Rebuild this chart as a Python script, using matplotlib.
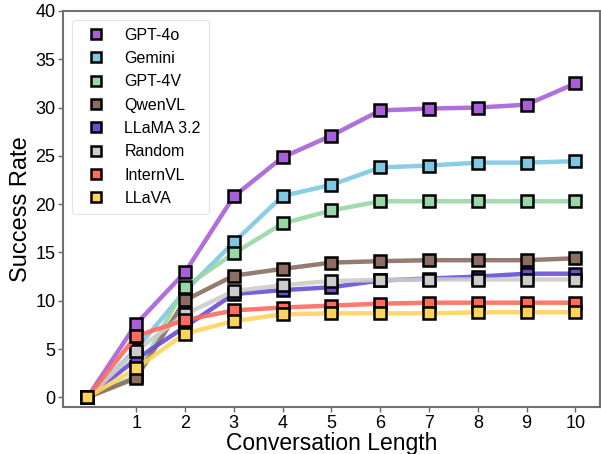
import matplotlib
matplotlib.use("Agg")
import matplotlib.pyplot as plt
from matplotlib.lines import Line2D

plt.rcParams['font.family'] = ['Liberation Sans', 'DejaVu Sans']

conv_length = [0, 1, 2, 3, 4, 5, 6, 7, 8, 9, 10]
tick_labels = ['1', '2', '3', '4', '5', '6', '7', '8', '9', '10']

models = ['GPT-4o', 'Gemini', 'GPT-4V', 'QwenVL', 'LLaMA 3.2', 'Random', 'InternVL', 'LLaVA']

gpt4o   = [0, 7.6, 12.95, 20.8, 24.85, 27.1, 29.7, 29.9, 30.0, 30.3, 32.5]
gemini  = [0, 5.0, 11.0, 16.05, 20.85, 22.0, 23.8, 24.0, 24.3, 24.3, 24.45]
gpt4v   = [0, 2.2, 11.45, 14.9, 18.0, 19.35, 20.3, 20.3, 20.3, 20.3, 20.3]
qwenvl  = [0, 2.0, 10.05, 12.6, 13.3, 13.95, 14.1, 14.2, 14.2, 14.2, 14.4]
llama32 = [0, 3.95, 7.3, 10.7, 11.1, 11.4, 12.1, 12.3, 12.5, 12.8, 12.8]
random_ = [0, 4.8, 8.6, 11.0, 11.6, 12.05, 12.15, 12.2, 12.2, 12.2, 12.2]
internvl = [0, 6.35, 8.0, 9.0, 9.3, 9.5, 9.7, 9.8, 9.8, 9.8, 9.8]
llava   = [0, 3.0, 6.6, 7.9, 8.6, 8.7, 8.7, 8.7, 8.8, 8.8, 8.8]

series = [gpt4o, gemini, gpt4v, qwenvl, llama32, random_, internvl, llava]
colors = ['#A95FD8', '#7EC8E3', '#98D8A6', '#8B6D62', '#6A4FD6', '#CCCCCC', '#FF6B5E', '#FFD35C']

fig = plt.figure(figsize=(6.01, 4.54), dpi=100)
ax = fig.add_axes([0.1048, 0.1035, 0.998 - 0.1048, 0.9758 - 0.1035])

for name, vals, c in zip(models, series, colors):
    ax.plot(conv_length, vals, '-', color=c, lw=3.2, alpha=0.9, solid_capstyle='round')
    ax.plot(conv_length, vals, 's', color=c, markersize=9.0, markeredgecolor='black',
            markeredgewidth=1.8, linestyle='none')

ax.set_xlim(-0.5, 10.5)
ax.set_ylim(-1, 40)
ax.set_xticks(conv_length[1:])
ax.set_xticklabels(tick_labels)
ax.set_yticks([0, 5, 10, 15, 20, 25, 30, 35, 40])
ax.tick_params(labelsize=13, length=3.5, width=1, color='#666666', pad=2)
for s in ax.spines.values():
    s.set_color('#707070')
    s.set_linewidth(1.5)

ax.set_xlabel('Conversation Length', fontsize=16.5, labelpad=0.5)
ax.set_ylabel('Success Rate', fontsize=17, labelpad=2)

handles = [Line2D([0], [0], marker='s', color=c, linestyle='none', markersize=7.5,
                  markeredgecolor='black', markeredgewidth=1.8) for c in colors]
leg = ax.legend(handles, models, loc='upper left', fontsize=11.5, labelspacing=0.52,
                frameon=True, borderpad=0.5, handletextpad=0.8, handlelength=2.0,
                bbox_to_anchor=(0.0, 1.0), borderaxespad=0.55)
leg.get_frame().set_edgecolor('#DDDDDD')
leg.get_frame().set_linewidth(0.8)

fig.savefig('out.png', dpi=100)
